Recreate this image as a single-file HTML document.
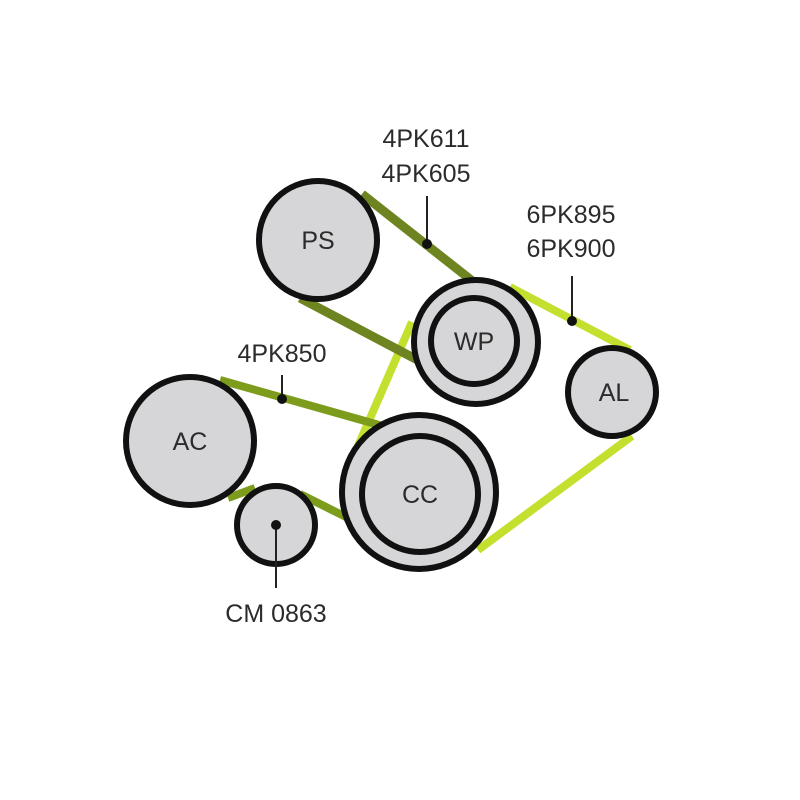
<!DOCTYPE html>
<html><head><meta charset="utf-8"><style>
html,body{margin:0;padding:0;background:#fff;}
svg{display:block;}
text{font-family:"Liberation Sans",sans-serif;fill:#2b2b2b;}
</style></head><body>
<svg width="800" height="800" viewBox="0 0 800 800" xmlns="http://www.w3.org/2000/svg">
<rect width="800" height="800" fill="#fff"/>
<g stroke-linecap="butt" fill="none">
  <g stroke="#c4df2e" stroke-width="8">
    <line x1="510" y1="287" x2="630" y2="350"/>
    <line x1="632" y1="436" x2="478" y2="550"/>
    <line x1="358" y1="446" x2="412" y2="322"/>
  </g>
  <g stroke="#6e8420" stroke-width="9">
    <line x1="362" y1="194" x2="494" y2="298"/>
    <line x1="300" y1="298" x2="444" y2="374"/>
  </g>
  <g stroke="#7e9c1c" stroke-width="8">
    <line x1="220" y1="380" x2="418" y2="436"/>
    <line x1="228" y1="498" x2="255" y2="488"/>
    <line x1="300" y1="494" x2="382" y2="535"/>
  </g>
</g>
<g stroke="#111" stroke-width="6" fill="#d6d6d8">
  <circle cx="318" cy="240" r="59"/>
  <circle cx="476" cy="342" r="62"/>
  <circle cx="474" cy="341" r="43"/>
  <circle cx="612" cy="392" r="44"/>
  <circle cx="419" cy="492" r="77"/>
  <circle cx="420" cy="494" r="58"/>
  <circle cx="190" cy="441" r="64"/>
  <circle cx="276" cy="525" r="39"/>
</g>
<g stroke="#222" stroke-width="2">
  <line x1="427" y1="196" x2="427" y2="244"/>
  <line x1="572" y1="276" x2="572" y2="321"/>
  <line x1="282" y1="375" x2="282" y2="399"/>
  <line x1="276" y1="525" x2="276" y2="588"/>
</g>
<g fill="#111">
  <circle cx="427" cy="244" r="5"/>
  <circle cx="572" cy="321" r="5"/>
  <circle cx="282" cy="399" r="5"/>
  <circle cx="276" cy="525" r="5"/>
</g>
<g font-size="25" text-anchor="middle">
  <text x="318" y="249">PS</text>
  <text x="474" y="350">WP</text>
  <text x="614" y="401">AL</text>
  <text x="420" y="503">CC</text>
  <text x="190" y="450">AC</text>
  <text x="426" y="147">4PK611</text>
  <text x="426" y="182">4PK605</text>
  <text x="571" y="223">6PK895</text>
  <text x="571" y="257">6PK900</text>
  <text x="282" y="362">4PK850</text>
  <text x="276" y="622">CM 0863</text>
</g>
</svg>
</body></html>
